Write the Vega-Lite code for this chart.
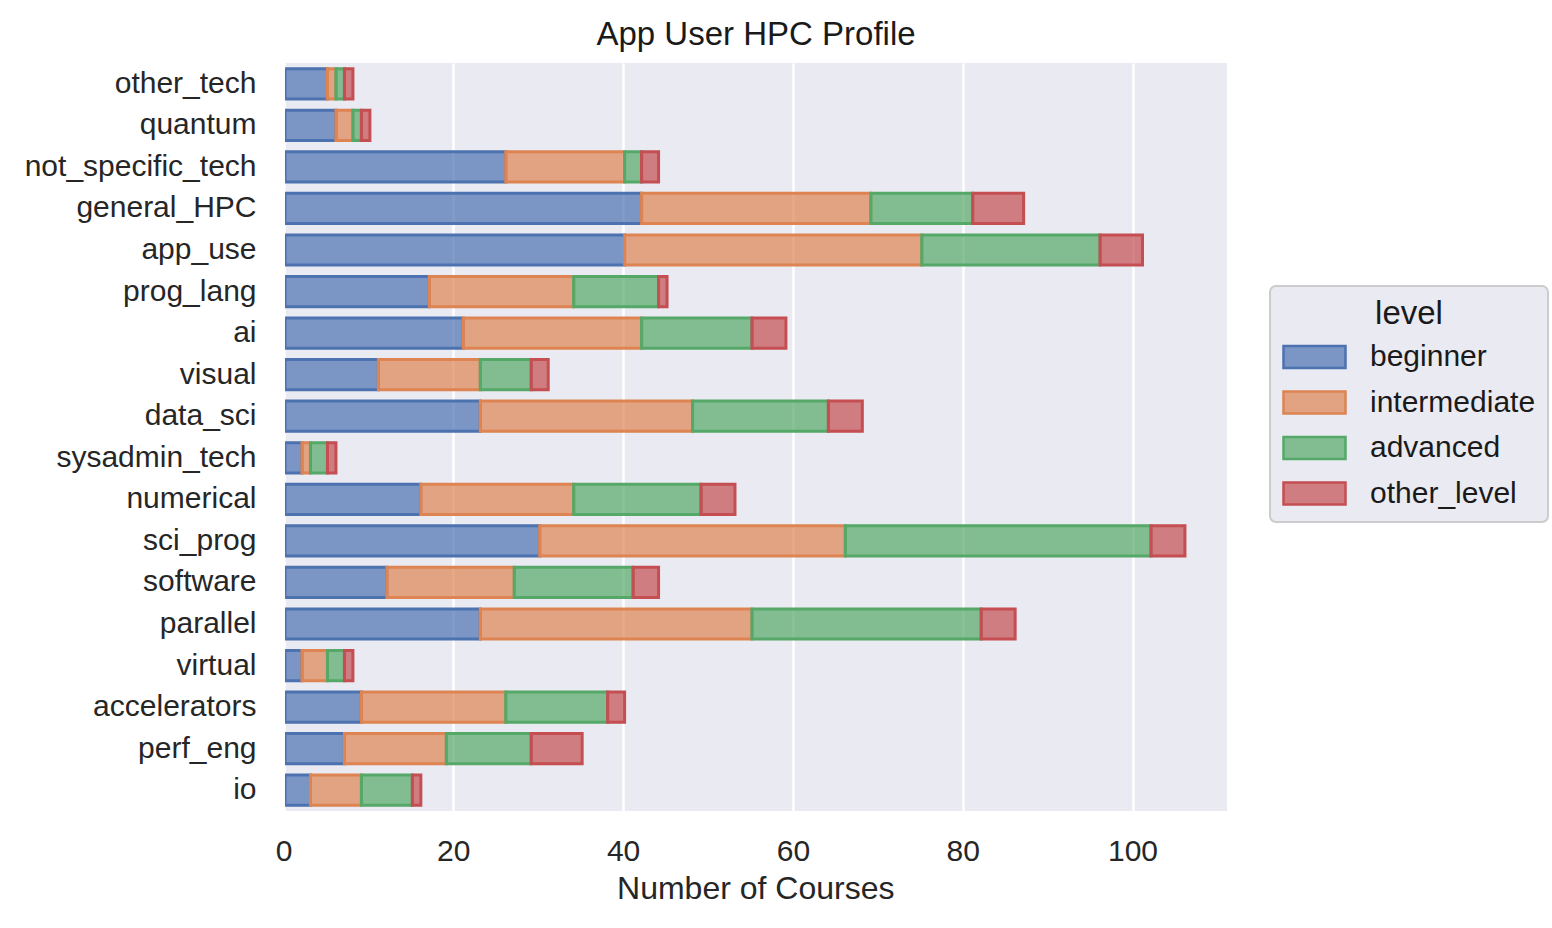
{
  "$schema": "https://vega.github.io/schema/vega-lite/v6.json",
  "width": 942,
  "height": 748,
  "autosize": {"type": "none"},
  "padding": {"left": 285, "top": 63, "right": 325, "bottom": 117},
  "background": "white",
  "title": {
    "text": "App User HPC Profile",
    "fontSize": 33,
    "fontWeight": "normal",
    "color": "#1a1a1a",
    "anchor": "middle",
    "offset": 11
  },
  "data": {
    "values": [
      {"topic": "other_tech", "beginner": 5, "intermediate": 1, "advanced": 1, "other_level": 1},
      {"topic": "quantum", "beginner": 6, "intermediate": 2, "advanced": 1, "other_level": 1},
      {"topic": "not_specific_tech", "beginner": 26, "intermediate": 14, "advanced": 2, "other_level": 2},
      {"topic": "general_HPC", "beginner": 42, "intermediate": 27, "advanced": 12, "other_level": 6},
      {"topic": "app_use", "beginner": 40, "intermediate": 35, "advanced": 21, "other_level": 5},
      {"topic": "prog_lang", "beginner": 17, "intermediate": 17, "advanced": 10, "other_level": 1},
      {"topic": "ai", "beginner": 21, "intermediate": 21, "advanced": 13, "other_level": 4},
      {"topic": "visual", "beginner": 11, "intermediate": 12, "advanced": 6, "other_level": 2},
      {"topic": "data_sci", "beginner": 23, "intermediate": 25, "advanced": 16, "other_level": 4},
      {"topic": "sysadmin_tech", "beginner": 2, "intermediate": 1, "advanced": 2, "other_level": 1},
      {"topic": "numerical", "beginner": 16, "intermediate": 18, "advanced": 15, "other_level": 4},
      {"topic": "sci_prog", "beginner": 30, "intermediate": 36, "advanced": 36, "other_level": 4},
      {"topic": "software", "beginner": 12, "intermediate": 15, "advanced": 14, "other_level": 3},
      {"topic": "parallel", "beginner": 23, "intermediate": 32, "advanced": 27, "other_level": 4},
      {"topic": "virtual", "beginner": 2, "intermediate": 3, "advanced": 2, "other_level": 1},
      {"topic": "accelerators", "beginner": 9, "intermediate": 17, "advanced": 12, "other_level": 2},
      {"topic": "perf_eng", "beginner": 7, "intermediate": 12, "advanced": 10, "other_level": 6},
      {"topic": "io", "beginner": 3, "intermediate": 6, "advanced": 6, "other_level": 1}
    ]
  },
  "transform": [
    {"fold": ["beginner", "intermediate", "advanced", "other_level"], "as": ["level", "count"]},
    {"calculate": "indexof(['beginner','intermediate','advanced','other_level'], datum.level)", "as": "levelOrder"}
  ],
  "mark": {
    "type": "bar",
    "fillOpacity": 0.7,
    "strokeWidth": 3,
    "strokeOpacity": 1,
    "xOffset": 1.5,
    "x2Offset": -1.5,
    "clip": true
  },
  "encoding": {
    "y": {
      "field": "topic",
      "type": "nominal",
      "sort": ["other_tech", "quantum", "not_specific_tech", "general_HPC", "app_use", "prog_lang", "ai", "visual", "data_sci", "sysadmin_tech", "numerical", "sci_prog", "software", "parallel", "virtual", "accelerators", "perf_eng", "io"],
      "scale": {"paddingInner": 0.273, "paddingOuter": 0.1365},
      "axis": {
        "title": null,
        "domain": false,
        "ticks": false,
        "grid": false,
        "labelFontSize": 30,
        "labelColor": "#262626",
        "labelPadding": 29,
        "labelLimit": 400
      }
    },
    "x": {
      "field": "count",
      "type": "quantitative",
      "stack": "zero",
      "scale": {"domain": [0, 111.13], "range": [-1.5, 942], "nice": false, "zero": true},
      "axis": {
        "title": "Number of Courses",
        "values": [0, 20, 40, 60, 80, 100],
        "domain": false,
        "ticks": false,
        "grid": true,
        "gridColor": "white",
        "gridWidth": 2.5,
        "labelFontSize": 30,
        "labelColor": "#262626",
        "labelPadding": 25,
        "labelFlush": false,
        "labelOverlap": false,
        "titleFontSize": 32,
        "titleFontWeight": "normal",
        "titleColor": "#262626",
        "titlePadding": 7
      }
    },
    "order": {"field": "levelOrder", "type": "quantitative"},
    "fill": {
      "field": "level",
      "type": "nominal",
      "scale": {
        "domain": ["beginner", "intermediate", "advanced", "other_level"],
        "range": ["#4C72B0", "#DD8452", "#55A868", "#C44E52"]
      },
      "legend": {
        "title": "level",
        "orient": "none",
        "legendX": 985,
        "legendY": 223,
        "padding": 12,
        "cornerRadius": 6,
        "fillColor": "#EAEAF2",
        "strokeColor": "#cccccc",
        "titleFontSize": 33,
        "titleFontWeight": "normal",
        "titleColor": "#1a1a1a",
        "titleAnchor": "middle",
        "titleAlign": "center",
        "titlePadding": 9,
        "labelFontSize": 30,
        "labelColor": "#1a1a1a",
        "labelOffset": 54,
        "labelLimit": 400,
        "rowPadding": 11.5,
        "symbolType": "M-1,-0.71L3,-0.71L3,0.71L-1,0.71Z",
        "symbolSize": 961,
        "symbolStrokeWidth": 2.5,
        "symbolOpacity": 1,
        "encode": {
          "symbols": {"update": {"fillOpacity": {"value": 0.7}}},
          "legend": {"update": {"strokeWidth": {"value": 2}}}
        }
      }
    },
    "stroke": {
      "field": "level",
      "type": "nominal",
      "scale": {
        "domain": ["beginner", "intermediate", "advanced", "other_level"],
        "range": ["#4C72B0", "#DD8452", "#55A868", "#C44E52"]
      },
      "legend": {
        "title": "level",
        "orient": "none",
        "legendX": 985,
        "legendY": 223
      }
    }
  },
  "config": {
    "font": "Liberation Sans",
    "view": {"fill": "#EAEAF2", "stroke": null}
  }
}
